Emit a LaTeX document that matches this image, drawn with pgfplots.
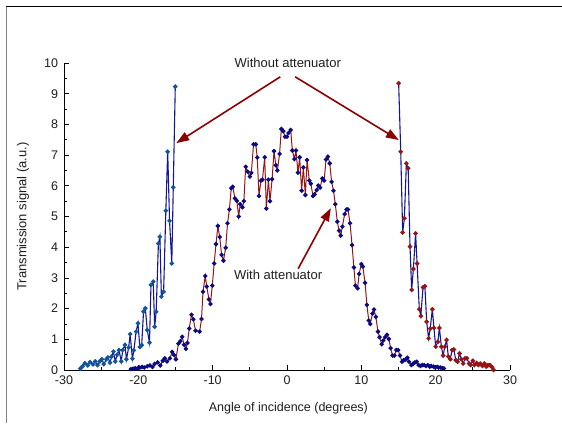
\documentclass[border=0pt]{standalone}
\usepackage{pgfplots}
\pgfplotsset{compat=1.18}
\usepackage{fontspec}
\setmainfont{Liberation Sans}
\usetikzlibrary{arrows.meta}
\definecolor{navyl}{RGB}{20,20,150}
\definecolor{steelm}{RGB}{18,85,155}
\definecolor{dred}{RGB}{150,20,20}
\definecolor{navym}{RGB}{10,10,130}
\definecolor{arr}{RGB}{140,0,0}
\definecolor{txt}{RGB}{30,30,30}
\begin{document}
\begin{tikzpicture}[x=1pt,y=1pt]
\useasboundingbox (0,0) rectangle (562,423);
\draw[gray,line width=1.2pt] (6.5,0) -- (6.5,416.5);
\draw[black,line width=1.2pt] (6,416.5) -- (562,416.5);
\begin{axis}[
  at={(64pt,53pt)}, anchor=south west,
  scale only axis, width=446pt, height=307pt,
  xmin=-30, xmax=30, ymin=0, ymax=10,
  axis x line=bottom, axis y line=left,
  axis line style={-, line width=0.9pt, black},
  tick align=inside,
  xtick={-30,-20,...,30}, minor xtick={-25,-15,...,25},
  ytick={0,1,...,10}, minor ytick={0.5,1.5,...,9.5},
  major tick length=5pt, minor tick length=3pt,
  every tick/.style={black, line width=0.7pt},
  /pgf/number format/assume math mode=true,
  tick label style={font=\fontsize{12.5}{14}\selectfont, text=txt},
  xticklabel style={yshift=-2.5pt},
  yticklabel style={xshift=-2.5pt},
  xlabel={Angle of incidence (degrees)},
  ylabel={Transmission signal (a.u.)},
  every axis x label/.style={at={(axis description cs:0.503,-0.124)},anchor=center,
     font=\fontsize{12.5}{14}\selectfont, text=txt},
  every axis y label/.style={at={(axis description cs:-0.092,0.5)},rotate=90,anchor=center,
     font=\fontsize{13}{15}\selectfont, text=txt},
  clip=false,
]
% Without attenuator, left
\addplot[color=navyl, line width=1.1pt, mark=*, mark size=1.7pt,
  mark options={fill=steelm, draw=steelm}] coordinates {
(-27.8,0.05)(-27.5,0.12)(-27.2,0.22)(-26.8,0.15)(-26.5,0.26)(-26.1,0.18)
(-25.8,0.28)(-25.5,0.16)(-25.2,0.28)(-24.9,0.35)(-24.65,0.19)(-24.3,0.35)
(-24.1,0.41)(-23.8,0.24)(-23.6,0.44)(-23.35,0.60)(-23.1,0.28)(-22.85,0.50)
(-22.6,0.65)(-22.3,0.28)(-22.1,0.65)(-21.8,0.82)(-21.6,0.35)(-21.3,0.73)
(-21.1,1.17)(-20.8,0.37)(-20.6,0.64)(-20.3,1.25)(-20.05,1.52)(-19.8,0.75)
(-19.55,0.81)(-19.3,1.90)(-19.06,2.01)(-18.8,1.30)(-18.5,0.89)(-18.3,2.77)
(-18.0,2.88)(-17.8,1.41)(-17.6,1.90)(-17.3,4.12)(-17.1,4.34)(-16.9,2.39)
(-16.6,2.55)(-16.3,5.19)(-16.05,7.11)(-15.8,4.86)(-15.5,3.47)(-15.3,5.95)
(-15.03,9.23)
};
% Without attenuator, right
\addplot[color=navyl, line width=1.1pt, mark=*, mark size=1.7pt,
  mark options={fill=dred, draw=dred}] coordinates {
(15.02,9.34)(15.3,7.11)(15.56,4.48)(15.79,4.94)(16.06,6.73)(16.3,6.57)
(16.55,4.02)(16.77,2.61)(17.0,3.29)(17.3,4.45)(17.5,3.47)(17.8,1.98)
(18.0,1.76)(18.3,2.69)(18.55,2.73)(18.79,1.57)(19.05,1.03)(19.27,1.35)
(19.55,1.98)(19.77,1.37)(20.0,0.76)(20.3,0.92)(20.5,1.37)(20.77,0.76)
(21.0,0.47)(21.23,0.76)(21.47,0.98)(21.7,0.44)(21.97,0.35)(22.2,0.65)
(22.45,0.67)(22.7,0.32)(22.95,0.27)(23.2,0.54)(23.45,0.35)(23.7,0.21)
(23.95,0.38)(24.2,0.38)(24.5,0.21)(24.7,0.16)(25.0,0.30)(25.2,0.16)
(25.5,0.23)(25.75,0.16)(26.0,0.21)(26.3,0.13)(26.55,0.21)(26.8,0.11)
(27.05,0.16)(27.3,0.16)(27.6,0.09)(27.8,0.0)
};
% With attenuator
\addplot[color=dred, line width=1.0pt, mark=*, mark size=1.7pt,
  mark options={fill=navym, draw=navym}] coordinates {
(-21.0,0.03)(-20.7,0.04)(-20.4,0.06)(-20.1,0.05)(-19.8,0.08)(-19.5,0.10)
(-19.2,0.08)(-18.8,0.12)(-18.45,0.15)(-18.1,0.10)(-17.8,0.20)(-17.4,0.25)
(-17.05,0.15)(-16.7,0.30)(-16.45,0.38)(-16.15,0.28)(-15.75,0.38)(-15.45,0.59)
(-15.2,0.49)(-14.95,0.35)(-14.6,0.86)(-14.35,0.94)(-14.1,1.08)(-13.85,0.82)
(-13.6,0.69)(-13.4,0.88)(-13.15,1.35)(-12.85,1.80)(-12.6,1.65)(-12.3,1.28)
(-11.75,1.25)(-11.5,1.66)(-11.3,2.55)(-11.0,3.06)(-10.8,2.72)(-10.5,2.30)
(-10.3,2.15)(-10.05,2.75)(-9.8,3.47)(-9.55,4.10)(-9.3,4.69)(-9.05,4.33)
(-8.8,3.75)(-8.55,3.56)(-8.25,3.98)(-8.0,4.78)(-7.75,5.23)(-7.5,5.92)
(-7.3,5.97)(-7.0,5.59)(-6.75,5.51)(-6.5,5.00)(-6.3,5.40)(-6.0,5.30)
(-5.8,5.50)(-5.56,6.62)(-5.3,6.46)(-5.0,6.30)(-4.8,6.42)(-4.5,7.35)
(-4.2,7.35)(-4.0,6.92)(-3.77,5.67)(-3.5,6.17)(-3.3,6.20)(-3.0,6.93)
(-2.78,5.26)(-2.5,6.20)(-2.29,5.50)(-2.0,6.22)(-1.75,7.13)(-1.5,6.67)
(-1.3,6.50)(-1.0,7.04)(-0.76,7.85)(-0.5,7.78)(-0.27,7.60)(0.0,7.60)
(0.2,7.72)(0.5,7.82)(0.72,7.15)(1.0,6.87)(1.2,7.15)(1.48,6.43)
(1.7,6.93)(1.97,5.84)(2.2,6.60)(2.47,5.70)(2.7,6.84)(3.0,6.17)
(3.2,6.07)(3.5,5.67)(3.7,5.72)(4.0,5.86)(4.2,6.01)(4.45,5.94)
(4.75,6.24)(5.0,6.17)(5.25,6.86)(5.5,6.95)(5.75,6.73)(6.0,6.13)
(6.25,5.84)(6.5,5.40)(6.77,4.83)(7.0,4.54)(7.22,4.38)(7.45,4.67)
(7.76,5.08)(8.0,5.23)(8.2,5.23)(8.48,4.78)(8.75,4.07)(9.0,3.34)
(9.2,2.75)(9.5,2.66)(9.7,3.13)(10.0,3.45)(10.2,3.37)(10.5,2.84)
(10.75,2.12)(11.0,1.61)(11.2,1.50)(11.5,1.84)(11.7,1.97)(11.95,1.73)
(12.24,1.25)(12.45,1.07)(12.74,0.84)(12.95,0.96)(13.2,1.07)(13.45,1.15)
(13.7,1.01)(13.94,0.71)(14.2,0.47)(14.45,0.47)(14.7,0.65)(14.95,0.65)
(15.2,0.47)(15.47,0.27)(15.7,0.32)(15.95,0.34)(16.2,0.40)(16.4,0.27)
(16.73,0.16)(16.95,0.20)(17.2,0.25)(17.45,0.27)(17.7,0.16)(17.95,0.13)
(18.2,0.16)(18.45,0.16)(18.7,0.13)(18.95,0.16)(19.2,0.11)(19.4,0.13)
(19.7,0.11)(19.9,0.09)(20.2,0.10)(20.4,0.08)(20.65,0.08)(20.9,0.06)
(21.1,0.05)
};
% annotations
\node[font=\fontsize{13}{15}\selectfont, text=txt] at (axis cs:0.1,10.0) {Without attenuator};
\draw[arr, line width=1.6pt, -{Triangle[length=13pt,width=9pt]}] (axis cs:-0.9,9.55) -- (axis cs:-14.9,7.39);
\draw[arr, line width=1.6pt, -{Triangle[length=13pt,width=9pt]}] (axis cs:1.1,9.55) -- (axis cs:15.05,7.49);
\node[font=\fontsize{13}{15}\selectfont, text=txt] at (axis cs:-1.2,3.1) {With attenuator};
\draw[arr, line width=1.6pt, -{Triangle[length=13pt,width=9pt]}] (axis cs:1.5,3.3) -- (axis cs:5.9,5.27);
\end{axis}
\end{tikzpicture}
\end{document}
